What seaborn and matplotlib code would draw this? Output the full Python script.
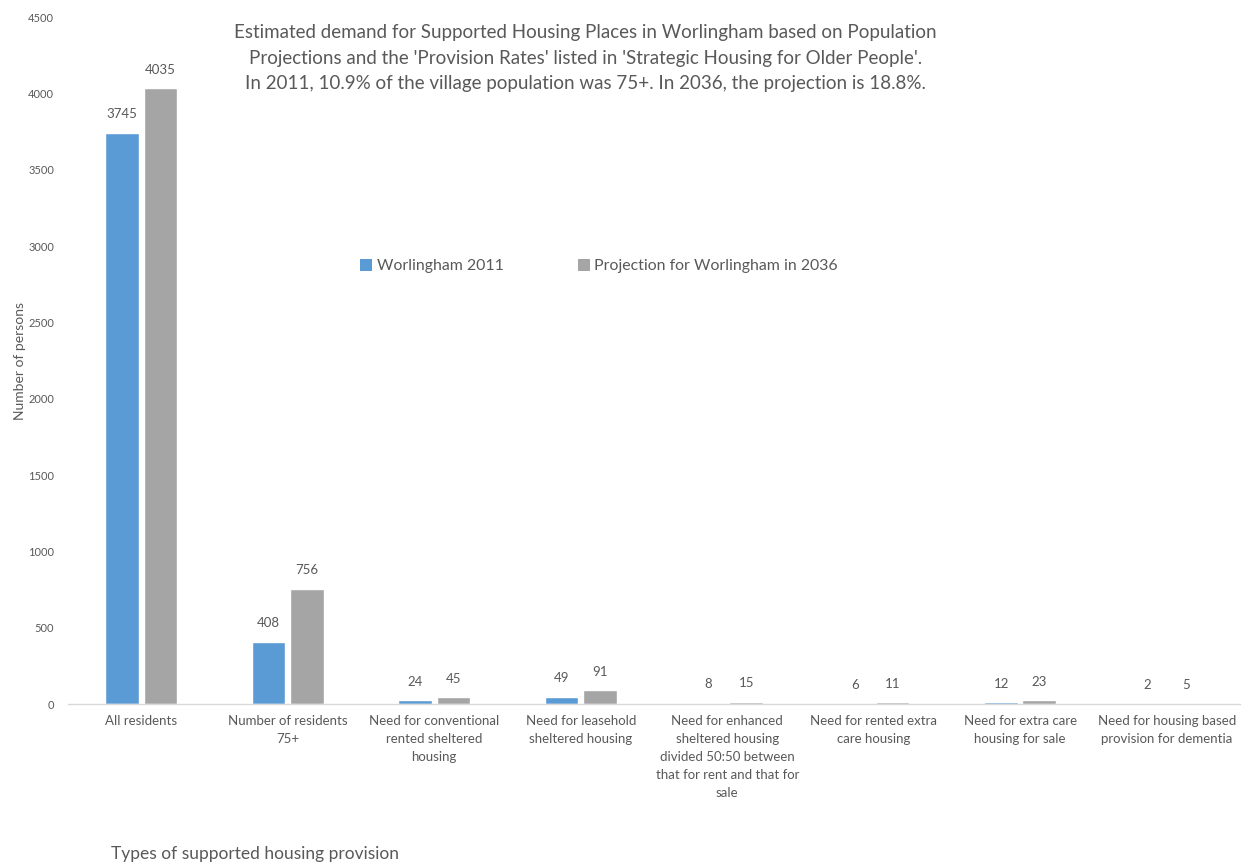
import matplotlib
matplotlib.use("Agg")
import matplotlib.pyplot as plt
import seaborn as sns
import pandas as pd
from matplotlib.patches import Patch

categories = [
    "All residents",
    "Number of residents\n75+",
    "Need for conventional\nrented sheltered\nhousing",
    "Need for leasehold\nsheltered housing",
    "Need for enhanced\nsheltered housing\ndivided 50:50 between\nthat for rent and that for\nsale",
    "Need for rented extra\ncare housing",
    "Need for extra care\nhousing for sale",
    "Need for housing based\nprovision for dementia",
]
series_names = ["Worlingham 2011", "Projection for Worlingham in 2036"]
values_2011 = [3745, 408, 24, 49, 8, 6, 12, 2]
values_2036 = [4035, 756, 45, 91, 15, 11, 23, 5]
y_ticks = [0, 500, 1000, 1500, 2000, 2500, 3000, 3500, 4000, 4500]

colors = ["#5B9BD5", "#A5A5A5"]
text_color = "#595959"

df = pd.DataFrame({
    "category": categories * 2,
    "series": [series_names[0]] * len(categories) + [series_names[1]] * len(categories),
    "value": values_2011 + values_2036,
})

sns.set_style("white")
plt.rcParams["font.family"] = ["Lato", "DejaVu Sans"]

fig = plt.figure(figsize=(12.48, 8.67), dpi=100)
ax = fig.add_axes([0.0545, 0.188, 0.939, 0.792])

sns.barplot(data=df, x="category", y="value", hue="series", order=categories,
            hue_order=series_names, palette=colors, width=0.52, gap=0.12,
            saturation=1, legend=False, ax=ax)

for cont in ax.containers:
    ax.bar_label(cont, padding=9, fontsize=9.5, color=text_color)

ax.set_ylim(0, 4500)
ax.set_yticks(y_ticks)
ax.set_yticklabels([str(t) for t in y_ticks], fontsize=8, color=text_color)
ax.set_xlim(-0.5, len(categories) - 0.5)
ax.tick_params(axis="x", length=0, pad=8, labelsize=9.5, labelcolor=text_color)
ax.tick_params(axis="y", length=0, pad=10)
for lbl in ax.get_xticklabels():
    lbl.set_linespacing(1.6)

for side in ["top", "right", "left"]:
    ax.spines[side].set_visible(False)
ax.spines["bottom"].set_color("#D9D9D9")
ax.spines["bottom"].set_linewidth(1)

ax.set_xlabel("")
ax.set_ylabel("Number of persons", fontsize=10, color=text_color)
ax.yaxis.set_label_coords(-0.036, 0.5)

fig.text(0.2045, 0.006, "Types of supported housing provision", fontsize=12.5,
         color=text_color, ha="center", va="bottom")

fig.text(0.469, 0.972,
         "Estimated demand for Supported Housing Places in Worlingham based on Population\n"
         "Projections and the 'Provision Rates' listed in 'Strategic Housing for Older People'.\n"
         "In 2011, 10.9% of the village population was 75+. In 2036, the projection is 18.8%.",
         fontsize=13.5, color=text_color, ha="center", va="top", linespacing=1.6)

handles = [Patch(facecolor=c, edgecolor="none") for c in colors]
fig.legend(handles, series_names, loc="center left", bbox_to_anchor=(0.277, 0.693),
           ncol=2, frameon=False, fontsize=11.4, labelcolor=text_color,
           handlelength=0.75, handleheight=0.75, handletextpad=0.3, columnspacing=4.7)

fig.savefig("out.png", dpi=100, facecolor="white")
